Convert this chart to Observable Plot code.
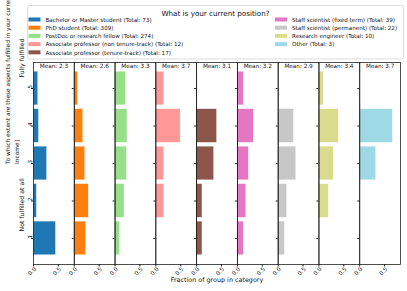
<!DOCTYPE html>
<html><head><meta charset="utf-8">
<script src="https://cdn.jsdelivr.net/npm/d3@7"></script>
<script src="https://cdn.jsdelivr.net/npm/@observablehq/plot@0.6"></script>
<style>
body{margin:0;background:#fff;overflow:hidden;}
#wrap{position:relative;width:407px;height:291px;font-family:"DejaVu Sans",sans-serif;}
#legend,#main{position:absolute;left:0;top:0;}
</style></head><body><div id="wrap"><div id="legend"></div><div id="main"></div></div>
<script>
const positions = ["Bachelor or Master student", "PhD student", "PostDoc or research fellow", "Associate professor (non tenure-track)", "Associate professor (tenure-track)", "Staff scientist (fixed term)", "Staff scientist (permanent)", "Research engineer", "Other"];
const totals = [73, 309, 274, 12, 17, 39, 22, 10, 3];
const means = ["2.3", "2.6", "3.3", "3.7", "3.1", "3.2", "2.9", "3.4", "3.7"];
const colors = ["#1f77b4","#ff7f0e","#98df8a","#ff9896","#8c564b","#e377c2","#c7c7c7","#dbdb8d","#9edae5"];
const levels = [1, 2, 3, 4, 5];
// fraction of each group answering level 1..5
const fracBachelor = [0.452, 0.068, 0.274, 0.110, 0.096];
const fracPhD = [0.235, 0.290, 0.220, 0.180, 0.075];
const fracPostDoc = [0.100, 0.190, 0.240, 0.250, 0.220];
const fracAssocNonTenure = [0, 0.167, 0.167, 0.500, 0.167];
const fracAssocTenure = [0.118, 0.118, 0.353, 0.412, 0];
const fracStaffFixed = [0.128, 0.180, 0.231, 0.333, 0.128];
const fracStaffPerm = [0.136, 0.182, 0.364, 0.318, 0];
const fracEngineer = [0, 0.200, 0.300, 0.400, 0.100];
const fracOther = [0, 0, 0.333, 0.667, 0];
const xTicks = [0, 0.5];
const legendTitle = "What is your current position?";
const yLabel = "To which extent are these aspects fulfilled in your current job? [Good\nIncome]";
const xLabel = "Fraction of group in category";
const topLabel = "Fully fulfilled";
const bottomLabel = "Not fulfilled at all";

const fractions = [fracBachelor, fracPhD, fracPostDoc, fracAssocNonTenure, fracAssocTenure, fracStaffFixed, fracStaffPerm, fracEngineer, fracOther];
const rows = positions.flatMap((p, i) => levels.map((l, j) => ({position: p, level: l, fraction: fractions[i][j]}))).filter(d => d.fraction > 0);
const meanRows = positions.map((p, i) => ({position: p, mean: means[i]}));
const font = "DejaVu Sans";

// ---------- legend ----------
const colX = [28.5, 275];
const rowY = r => 19.5 + r * 8.2;
const legendItems = positions.map((p, i) => ({position: p, label: `${p} (Total: ${totals[i]})`, col: i < 5 ? 0 : 1, row: i < 5 ? i : i - 5}));
const legend = Plot.plot({
  width: 407, height: 62,
  marginLeft: 27, marginRight: 4, marginTop: 5, marginBottom: 3.5,
  style: {background: "white", fontFamily: font, fontSize: "5.6px", color: "#111"},
  x: {domain: [0, 407], range: [0, 407], axis: null},
  y: {domain: [0, 62], range: [0, 62], axis: null},
  color: {domain: positions, range: colors},
  marks: [
    Plot.frame({stroke: "#d4d4d4", rx: 2, strokeWidth: 0.8}),
    Plot.text([legendTitle], {frameAnchor: "top", dy: 5.5, fontSize: 7.2, text: d => d}),
    Plot.rect(legendItems, {x1: d => colX[d.col], x2: d => colX[d.col] + 12, y1: d => rowY(d.row) - 2, y2: d => rowY(d.row) + 2, fill: "position"}),
    Plot.text(legendItems, {x: d => colX[d.col] + 16.5, y: d => rowY(d.row), text: "label", textAnchor: "start"})
  ]
});
document.getElementById("legend").appendChild(legend);

// ---------- main panels ----------
const main = Plot.plot({
  width: 407, height: 291,
  marginTop: 62, marginBottom: 27, marginLeft: 33, marginRight: 7,
  style: {background: "transparent", fontFamily: font, fontSize: "5.6px", color: "#111"},
  fx: {domain: positions, range: [33, 400], padding: 0, round: false, axis: null},
  x: {domain: [0, 0.82], axis: null},
  y: {domain: [0.305, 5.695], axis: null},
  color: {domain: positions, range: colors},
  marks: [
    Plot.rect(rows, {fx: "position", x1: 0, x2: "fraction", y1: d => d.level - 0.45, y2: d => d.level + 0.45, fill: "position", stroke: "white", strokeWidth: 0.4}),
    Plot.frame({stroke: "#222", strokeWidth: 0.8}),
    Plot.axisY({ticks: levels, tickSize: 2, text: null, label: null, facetAnchor: null, stroke: "#222"}),
    Plot.axisX({ticks: xTicks, tickSize: 2.5, text: null, label: null, stroke: "#222"}),
    Plot.text(xTicks, {x: d => d, frameAnchor: "bottom", dy: 8, rotate: -45, text: d => d.toFixed(1)}),
    Plot.text(levels, {fx: () => positions[0], y: d => d, frameAnchor: "left", dx: -3.5, rotate: -90, text: d => String(d)}),
    Plot.text(meanRows, {fx: "position", frameAnchor: "top", dy: 1.2, text: d => `Mean: ${d.mean}`, fontSize: 5.7}),
    Plot.text([yLabel], {fx: () => positions[0], frameAnchor: "left", dx: -22, dy: 0.5, rotate: -90, lineAnchor: "middle", lineHeight: 1.5, fontSize: 5.9, text: d => d}),
    Plot.text([topLabel], {fx: () => positions[0], y: () => 5, frameAnchor: "left", dx: -11.5, dy: -11, rotate: -90, fontSize: 6.2, text: d => d}),
    Plot.text([bottomLabel], {fx: () => positions[0], y: () => 1, frameAnchor: "left", dx: -11.5, dy: -7, rotate: -90, fontSize: 6.2, text: d => d}),
    Plot.text([xLabel], {fx: () => positions[4], frameAnchor: "bottom", dy: 17, fontSize: 6.4, text: d => d})
  ]
});
document.getElementById("main").appendChild(main);
</script></body></html>
